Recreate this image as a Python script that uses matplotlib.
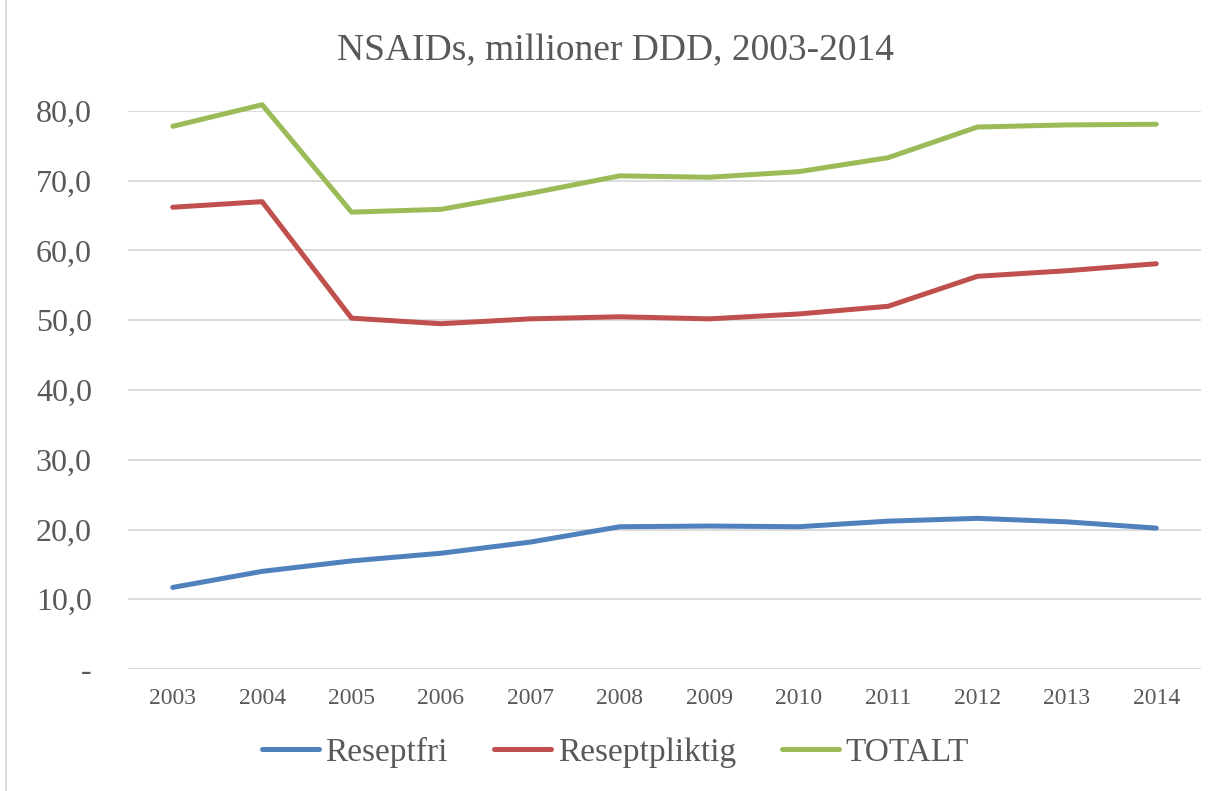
import numpy as np
import matplotlib.pyplot as plt
from matplotlib.patches import Rectangle

years = ['2003', '2004', '2005', '2006', '2007', '2008', '2009', '2010', '2011', '2012', '2013', '2014']
reseptfri = [11.7, 14.0, 15.5, 16.6, 18.2, 20.4, 20.5, 20.4, 21.2, 21.6, 21.1, 20.2]
reseptpliktig = [66.2, 67.0, 50.3, 49.5, 50.2, 50.5, 50.2, 50.9, 52.0, 56.3, 57.1, 58.1]
totalt = [77.8, 80.9, 65.5, 65.9, 68.2, 70.7, 70.5, 71.3, 73.3, 77.7, 78.0, 78.1]

txt = '#595959'
plt.rcParams['font.family'] = ['Liberation Serif', 'DejaVu Serif']

fig = plt.figure(figsize=(12.31, 7.91), dpi=100)
ax = fig.add_axes([0.104, 0.1542, 0.8716, 0.7055])

x = np.arange(len(years))
ax.plot(x, reseptfri, color='#4F81BD', lw=3.6, label='Reseptfri', solid_capstyle='round', clip_on=False)
ax.plot(x, reseptpliktig, color='#C0504D', lw=3.6, label='Reseptpliktig', solid_capstyle='round', clip_on=False)
ax.plot(x, totalt, color='#9BBB59', lw=3.6, label='TOTALT', solid_capstyle='round', clip_on=False)

ax.set_xlim(-0.5, len(years) - 0.5)
ax.set_ylim(0, 80)
ax.set_xticks(x)
ax.set_xticklabels(years, fontsize=17, color=txt)
yt = np.arange(0, 81, 10)
ax.set_yticks(yt)
ax.set_yticklabels(['-'] + [f'{v:.1f}'.replace('.', ',') for v in yt[1:]], fontsize=23, color=txt)
ax.tick_params(axis='both', length=0)
ax.tick_params(axis='y', pad=26)
ax.tick_params(axis='x', pad=14)
ax.grid(axis='y', color='#D9D9D9', lw=1.3)
ax.set_axisbelow(True)
for s in ax.spines.values():
    s.set_visible(False)

fig.text(0.5, 0.935, 'NSAIDs, millioner DDD, 2003-2014', ha='center', va='center', fontsize=27, color=txt)

fig.legend(loc='center', bbox_to_anchor=(0.5, 0.049), ncol=3, frameon=False, fontsize=24,
           handlelength=1.7, handletextpad=0.2, columnspacing=1.4, labelcolor=txt)

fig.patches.append(Rectangle((0.005, -0.01), 1.0, 1.02, transform=fig.transFigure,
                             fill=False, edgecolor='#D9D9D9', lw=1.3))

fig.savefig('out.png', dpi=100)
